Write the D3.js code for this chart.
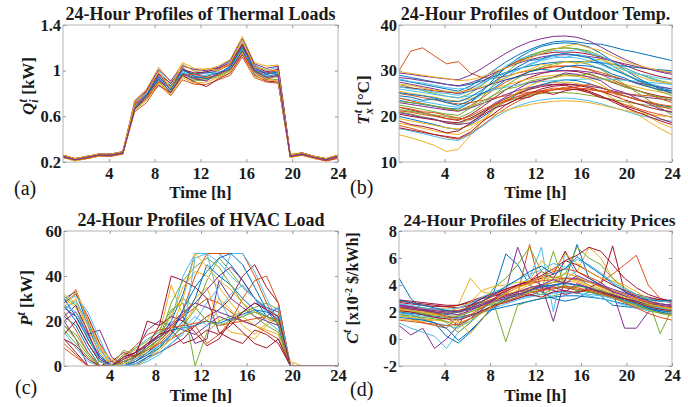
<!DOCTYPE html>
<html><head><meta charset="utf-8">
<script src="https://cdn.jsdelivr.net/npm/d3@7"></script>
<style>body{margin:0;background:#fff}svg{display:block}</style>
</head><body>
<script>
// ---------- DATA ----------
const hours = [0,1.04,2.09,3.13,4.17,5.22,6.26,7.30,8.35,9.39,10.43,11.48,12.52,13.57,14.61,15.65,16.70,17.74,18.78,19.83,20.87,21.91,22.96,24];
const xTicks = [4,8,12,16,20,24];

const thermalLoads = [
[0.25,0.22,0.24,0.26,0.26,0.28,0.68,0.78,0.92,0.84,0.98,0.94,0.95,0.98,1.03,1.18,1.00,0.95,0.97,0.25,0.27,0.24,0.22,0.25],
[0.24,0.21,0.23,0.25,0.25,0.27,0.64,0.72,0.88,0.78,0.92,0.88,0.88,0.92,0.96,1.12,0.94,0.90,0.89,0.24,0.26,0.23,0.21,0.23],
[0.26,0.23,0.25,0.27,0.27,0.29,0.74,0.84,1.03,0.90,1.07,1.02,1.01,1.04,1.10,1.30,1.07,1.04,1.05,0.27,0.28,0.25,0.23,0.26],
[0.25,0.22,0.24,0.26,0.26,0.28,0.70,0.80,0.96,0.86,1.02,0.96,0.98,1.00,1.06,1.22,1.02,0.98,1.00,0.26,0.27,0.24,0.22,0.25],
[0.24,0.22,0.23,0.26,0.26,0.28,0.66,0.75,0.90,0.80,0.95,0.91,0.92,0.95,1.00,1.15,0.97,0.93,0.92,0.25,0.27,0.24,0.22,0.24],
[0.25,0.23,0.24,0.27,0.27,0.28,0.72,0.82,1.00,0.88,1.05,1.00,0.97,1.02,1.08,1.26,1.05,1.00,1.03,0.26,0.28,0.25,0.22,0.25],
[0.24,0.22,0.24,0.26,0.26,0.27,0.67,0.76,0.87,0.81,0.96,0.90,0.86,0.93,0.98,1.14,0.96,0.91,0.90,0.25,0.26,0.24,0.21,0.24],
[0.25,0.22,0.25,0.26,0.27,0.29,0.69,0.79,0.94,0.87,1.00,0.97,0.99,0.97,1.04,1.20,1.03,0.97,0.99,0.25,0.27,0.24,0.22,0.25],
[0.26,0.23,0.24,0.27,0.26,0.28,0.71,0.81,0.98,0.83,1.03,0.93,0.94,1.01,1.05,1.24,1.00,0.96,1.02,0.26,0.28,0.25,0.23,0.26],
[0.24,0.21,0.23,0.25,0.26,0.27,0.65,0.74,0.89,0.79,0.94,0.89,0.90,0.94,0.99,1.16,0.95,0.92,0.91,0.24,0.26,0.23,0.22,0.24],
[0.25,0.22,0.24,0.26,0.26,0.28,0.73,0.83,1.01,0.91,1.04,1.01,1.00,1.03,1.09,1.28,1.06,1.02,1.04,0.26,0.27,0.24,0.22,0.25],
[0.25,0.22,0.24,0.26,0.26,0.28,0.68,0.77,0.91,0.82,0.97,0.92,0.93,0.96,1.01,1.19,0.99,0.94,0.95,0.25,0.27,0.24,0.22,0.25],
[0.24,0.22,0.24,0.26,0.26,0.28,0.69,0.80,0.93,0.85,0.99,0.95,0.96,0.99,1.02,1.17,0.98,0.96,0.94,0.25,0.27,0.24,0.22,0.24],
[0.26,0.23,0.25,0.27,0.27,0.29,0.71,0.82,0.97,0.89,1.01,0.98,0.99,1.02,1.07,1.23,1.04,0.99,1.01,0.26,0.28,0.25,0.23,0.26],
[0.25,0.22,0.24,0.26,0.26,0.28,0.67,0.79,0.95,0.83,1.01,0.95,0.93,0.97,1.04,1.21,1.01,0.97,0.98,0.25,0.27,0.24,0.22,0.25],
[0.24,0.22,0.23,0.26,0.25,0.27,0.70,0.77,0.90,0.86,0.96,0.97,0.94,0.96,1.02,1.14,0.99,0.92,0.96,0.25,0.26,0.24,0.21,0.24],
[0.26,0.23,0.25,0.27,0.27,0.29,0.72,0.81,0.99,0.85,1.06,0.99,1.02,1.00,1.07,1.27,1.03,1.01,1.00,0.26,0.28,0.25,0.23,0.26],
[0.25,0.22,0.24,0.26,0.26,0.28,0.66,0.78,0.93,0.81,0.97,0.93,0.91,0.98,1.01,1.17,1.00,0.94,0.96,0.25,0.27,0.24,0.22,0.25]
];

const outdoorTemp = [
[28,27.5,27,26.5,26,25.5,26.6,28.3,30.1,31.9,33.4,34.6,35.6,36.3,36.5,36.3,35.9,35.8,35.2,34.5,34,33.4,32.8,32.2],
[30,34.3,35,33.2,31.5,32,29.5,28.5,28.3,28.8,29.5,30,30.5,31,31,30.8,30.3,29.6,28.8,28,27.3,26.5,25.8,25.2],
[16,15.3,14.5,13.6,12.3,12.8,15.8,18.7,21.5,23.6,25.2,26.2,27,27.4,27.5,27.2,26.6,25.5,24,22.3,20.6,18.9,17.3,16],
[29.5,29.2,28.8,28.5,28.2,28,29,30.5,32.2,33.8,35.2,36.3,37,37.5,37.6,37.3,36.5,35.2,33.8,32.5,31.4,30.4,29.7,29.2],
[27,26.3,25.6,25,24.4,24,25,26.8,28.8,30.6,32.2,33.4,34.2,34.8,35,34.8,34.3,33.2,31.9,30.6,29.5,28.6,27.8,27.2],
[24,23.6,23.2,22.8,22.3,22,23,24.8,26.7,28.6,30.2,31.3,32.2,32.8,33,32.8,32.2,31.3,30.2,29.2,28.2,27.3,26.6,26],
[22,21.4,20.8,20.2,19.5,19.1,20.3,22,24,25.8,27.3,28.5,29.4,29.9,30,29.8,29.2,28.4,27.4,26.5,25.7,25,24.4,24],
[20,19.4,18.8,18.2,17.5,17.1,18.2,19.8,21.6,23.3,24.9,26,26.9,27.6,28,27.8,27.2,26.3,25.4,24.5,23.7,23,22.4,22],
[18,17.4,16.7,16,15.4,15,16.2,18,20,21.8,23.3,24.4,25.2,25.8,26,25.8,25.2,24.4,23.5,22.6,21.8,21,20.4,19.8],
[25.5,25,24.6,24.2,23.6,23.3,23.8,24.8,25.8,26.8,27.6,28.2,28.7,29,29.1,29,28.7,28.2,27.6,27,26.4,25.8,25.3,25],
[23,22.6,22.2,21.8,21.4,21.1,21.8,22.8,23.8,24.8,25.7,26.3,26.8,27,27.1,26.9,26.6,26.2,25.6,25,24.5,24.1,23.8,23.5],
[21,20.5,19.9,19.3,18.7,18.3,19.4,20.8,22.1,23.2,24,24.6,25,25.2,25.2,25,24.6,24.2,23.7,23.2,22.8,22.4,22.1,21.9],
[17.3,16.8,16.2,15.6,15,14.7,16,17.8,19.6,21.1,22.3,23.1,23.6,23.9,24,23.8,23.4,22.8,22,21.2,20.4,19.8,19.3,18.9],
[26.5,26.2,25.9,25.6,25.3,25.1,26,27.5,29.2,30.7,32,33,33.6,34,34.1,34,33.6,33,32.2,31.2,30.2,29.4,28.7,28.2],
[29,28.5,28,27.5,27,26.6,27,27.8,28.7,29.6,30.4,31,31.5,31.8,32,32,31.9,31.7,31.4,31,30.7,30.4,30.2,30],
[24,23.4,22.8,22.2,21.6,21.2,22.3,24,25.9,27.5,28.8,29.8,30.4,30.8,31,30.8,30.2,29.2,28,26.8,25.8,24.8,23.9,23],
[19.5,19,18.5,18,17.5,17.2,18,19.2,20.3,21.3,22,22.6,23,23.3,23.4,23.3,23,22.5,21.9,21.3,20.8,20.4,20.1,19.9],
[27.5,27,26.5,26,25.4,25,25.5,26.3,27.2,28,28.7,29.2,29.6,29.9,30,30,29.7,29.2,28.6,28,27.4,26.9,26.4,26],
[22.5,22,21.5,21,20.5,20.2,21.8,24.2,27,29.5,31.6,33.1,34.2,34.8,35,34.8,34,32.6,31,29.4,28,26.7,25.5,24.5],
[26,25.6,25.2,24.8,24.4,24.1,24.5,25.1,25.8,26.4,26.9,27.3,27.6,27.8,28,28.1,28.2,28.2,28.1,27.9,27.7,27.5,27.2,27],
[20.5,20,19.6,19.2,18.8,18.6,19.6,21,22.5,23.9,25,25.9,26.5,26.9,27,26.8,26.3,25.5,24.6,23.6,22.8,22,21.4,21],
[23.5,23,22.6,22.2,21.8,21.6,23,25.4,28.2,30.7,32.7,34.2,35.3,35.9,36.1,35.9,35.2,33.8,32,30.2,28.6,27.2,26,25],
[25,24.6,24.1,23.6,23.1,22.7,23,23.5,24,24.5,24.9,25.3,25.6,25.8,26,25.9,25.8,25.6,25.3,25,24.7,24.5,24.2,24],
[18.5,18,17.4,16.8,16.3,16,17.2,19.2,21.4,23.5,25.3,26.7,27.8,28.5,28.9,28.8,28.2,27,25.3,23.5,21.7,20,18.5,17.5],
[28.5,28.2,27.8,27.4,27,26.7,27.3,28.3,29.5,30.6,31.6,32.4,33,33.4,33.5,33.4,33.1,32.7,32.1,31.5,30.9,30.4,29.9,29.5],
[21.5,21.1,20.7,20.3,19.9,19.6,20.8,22.6,24.7,26.7,28.4,29.8,30.8,31.5,31.9,31.9,31.4,30.3,28.7,27,25.3,23.6,21.9,20.3],
[26.5,26,25.8,25.3,25,24.6,25.5,27,29,31,32.5,33.2,33.8,34.4,34.2,34.6,33.8,33.2,32,30.6,29.5,28.4,27.6,27],
[19,18.2,17.8,17.2,16.4,16.8,18.5,20.2,21.8,22.6,23.8,24.2,25.5,24.8,25.6,26,25.2,24.1,23.6,22.3,21.5,20.6,19.5,18.6],
[24.5,24.2,23.5,23.8,23,22.4,23.5,25,26.2,28,28.6,29.8,30.3,30,30.9,31.2,31,30.5,29.2,28.4,27.2,26.5,25.8,25.5],
[22,21.6,21,20.8,20.2,19.6,19.2,20.5,22.3,23.5,24.3,24.8,25.6,26.2,26,26.5,27,26.4,25.3,24.5,23.6,23,22.2,21.5],
[27,26.8,26.2,25.7,25.5,25.2,25.8,26.4,27.5,28.4,29.6,30.2,31.4,31,32,31.6,32.2,32.5,31.5,30.2,29,28,27.5,27.2],
[20.8,20.3,19.7,19.4,18.5,18.2,18.6,20.4,22.8,24.2,26,27.4,27.9,28.6,29.5,29.2,28.6,27.8,26,25.2,24,22.8,21.6,20.8],
[23.2,23,22.7,22.3,21.8,21.3,22,23.2,24.7,25.9,26.5,27.7,28.2,28.5,29.2,28.8,29.4,28.4,27.6,26.4,25.8,24.8,24.2,23.6],
[28.2,27.6,27.3,26.8,26.3,26,26.2,27.4,28.4,29.4,30.1,31.5,32.4,33.2,32.8,33.6,32.9,32,31,30.1,29.3,28.9,28.3,28],
[17.5,17,16.5,16,15.6,15.2,16.5,18.8,20.6,22.5,23.8,25,26,26.6,26.8,26.2,25.5,24.5,23.2,22,21,20,19,18.2],
[25.2,24.8,24.5,24,23.4,23.2,24.2,25.8,27.6,29.2,30.8,32.2,32.6,33.4,33.8,33.3,32.8,31.6,30.4,29.2,28,27,26.2,25.6],
[21.2,20.9,20.4,20,19.5,19.3,20,21.4,22.6,23.2,24.4,25.2,25.1,25.8,26.4,26.2,26,25.4,25.1,24.4,23.8,23.2,22.6,22.2],
[29.8,29.4,29,28.6,28.3,27.8,28,28.6,29.8,30.6,31.8,32.7,33.8,34.6,35.4,35.8,35,34.4,33.2,32,31.2,30.6,30,29.6]
];

const hvacLoad = [
[30,33,18,5,0,2,4,8,12,20,32,50,50,50,45,38,30,22,20,0,0,0,0,0],
[28,34,20,8,0,0,3,6,10,15,25,40,50,50,50,50,40,28,18,0,0,0,0,0],
[25,30,15,0,0,5,7,9,14,36,22,30,35,20,15,14,12,18,22,0,0,0,0,0],
[20,12,0,0,0,4,6,16,20,18,16,14,18,22,20,24,28,26,24,0,0,0,0,0],
[31,27,12,3,0,0,2,5,8,12,18,25,38,48,42,35,30,26,22,0,0,0,0,0],
[15,8,2,0,0,3,8,12,15,20,40,50,50,30,20,22,25,20,16,0,0,0,0,0],
[28,32,22,10,2,0,0,4,6,9,12,18,22,25,30,40,45,35,28,0,0,0,0,0],
[22,18,8,0,0,1,5,10,13,16,17,18,20,19,21,23,25,24,21,0,0,0,0,0],
[10,5,0,0,0,0,3,8,12,18,22,26,30,28,24,20,18,15,12,0,0,0,0,0],
[30,26,16,6,0,2,6,10,14,22,35,42,40,35,28,22,18,16,14,0,0,0,0,0],
[26,22,14,16,4,0,2,6,11,17,22,10,12,38,30,26,22,20,18,0,0,0,0,0],
[18,14,6,0,0,5,8,11,16,25,28,0,15,20,22,24,26,28,25,0,0,0,0,0],
[29,31,24,12,0,0,0,2,5,10,15,20,28,35,50,50,42,30,20,0,0,0,0,0],
[12,6,0,0,2,6,4,9,18,40,38,35,30,15,12,10,16,14,10,0,0,0,0,0],
[27,20,10,2,0,0,1,4,8,14,20,30,45,40,36,30,25,22,19,0,0,0,0,0],
[24,16,6,0,0,3,5,7,10,12,15,18,10,14,20,30,38,40,28,0,0,0,0,0],
[32,28,18,8,3,0,0,3,7,12,19,26,20,30,25,18,14,19,23,2,0,0,0,0],
[20,24,14,4,0,0,4,9,14,19,24,28,26,24,22,20,18,22,26,0,0,0,0,0],
[16,10,4,0,0,7,5,8,12,28,38,44,48,44,36,28,22,18,15,0,0,0,0,0],
[25,29,19,7,1,0,1,3,6,10,14,48,50,46,40,35,30,26,22,0,0,0,0,0],
[14,20,10,2,0,2,4,20,18,22,20,15,9,12,20,15,10,8,12,0,0,0,0,0],
[30,22,12,4,0,0,2,5,9,14,25,35,42,48,50,45,35,25,18,0,0,0,0,0],
[8,4,0,0,0,4,9,14,16,17,18,19,20,18,19,20,21,22,20,0,0,0,0,0],
[26,33,21,9,0,1,3,7,11,16,30,50,44,38,34,28,24,21,19,0,0,0,0,0],
[22,27,15,3,0,3,6,9,13,18,23,28,34,40,44,38,30,25,20,0,0,0,0,0],
[18,12,5,0,0,2,4,7,12,24,30,26,20,18,20,22,24,22,20,0,0,0,0,0],
[27,24,13,2,0,0,3,6,9,13,17,22,18,25,32,36,30,24,26,0,0,0,0,0],
[12,9,3,0,0,4,6,10,14,16,10,12,16,14,18,24,28,25,22,0,0,0,0,0]
];

const elecPrice = [
[4.5,3,2.2,2,1.8,2,2.5,3,3.5,6.3,5.5,4,3.5,3,2.8,3,3.5,3.2,2.5,2.4,2.3,2.2,2.1,2],
[2,1.5,1.2,1,0.8,1.8,2.5,2.7,3,3.2,3.3,7,3.5,4,3.8,3.6,3.5,3.3,3,2.8,2.5,2.3,2,1.9],
[2.5,2.4,2.3,2.2,2.3,2.5,4.5,3.5,3.3,3.2,3.5,3.8,4,4.2,4.5,5,6.8,6,4.5,3.5,3,2.8,2.6,2.5],
[1,0.3,0.8,-0.7,0,1,2.5,3,3.2,3.3,3.5,3.7,3.8,4,4.2,4,3.8,3.6,3.3,3,2.8,2.6,2.4,2.2],
[2.2,2.1,2,1.9,1.9,2,2.2,2.4,2.6,-0.2,2.5,2.8,3,3.2,3.4,3.5,3.6,3.4,3.2,3,2.8,2.6,2.4,2.3],
[1.8,1.6,1.4,1.2,1,0.8,1.5,2.2,2.8,3.5,4,4.5,6.8,2,6.5,4.5,4,3.5,3.2,2.8,2.5,2.3,2.1,2],
[2.8,2.7,2.6,2.5,2.4,2.3,2.5,2.8,3.2,3.5,4,4.2,4.5,4.8,6.5,5,4.5,4,6.9,3.5,3.2,3,2.9,2.8],
[2,1.8,1.5,1.2,0.2,-0.3,0.5,1.5,2.5,3,3.3,3.6,3.9,4.2,4.3,7,4.5,4,3.5,3.2,2.8,2.5,2.3,2.2],
[2.3,2.3,2.2,2.2,2.1,2.1,2.3,2.6,3,3.3,3.5,3.6,3.7,3.8,3.8,3.7,3.5,3.3,3.1,2.9,2.7,2.5,2.4,2.3],
[1.5,1.4,1.3,1.4,1.5,1.7,2,2.4,2.8,3.2,3.6,4,4.4,4.6,4.5,4.3,4,3.7,3.3,3,2.7,2.4,2.2,2],
[2.6,2.4,2.2,2,1.6,1,1.5,2.2,3,3.6,6.8,4.5,4,3.6,3.3,3.5,3.8,4.2,3.5,0.8,0.8,2,2.3,2.5],
[2.1,2,1.9,1.8,1.7,1.7,2,2.3,2.7,3,3.3,3.5,3.6,6.5,3.8,3.9,3.8,3.6,3.3,3,2.7,2.5,2.3,2.1],
[1.2,0.8,0.5,0.2,-0.7,0.5,1.2,2,2.5,2.8,3,3.2,3.3,3.4,3.5,3.4,3.3,3.2,3,2.8,2.6,2.4,2.3,2.2],
[2.9,2.8,2.7,2.6,2.5,2.5,2.7,3,3.3,3.7,4,4.3,5,4.5,5.8,5.5,5,4.5,4,3.6,3.3,3.1,2.9,2.8],
[2,1.9,1.8,1.7,1.6,1.6,1.8,2,2.2,2.4,2.6,2.8,3,3.1,3.2,3.2,3.1,3,2.8,2.6,2.4,2.3,2.1,2],
[2.4,2.3,2.1,1.9,1.7,1.5,1.8,2.3,2.9,3.4,3.8,4.2,4.6,5,5.2,5,4.6,4.2,4.8,5.5,6.2,4,3,2.6],
[1.7,1.6,1.5,1.4,1.3,1.2,1.5,1.9,2.4,2.9,3.3,3.7,4,4.2,4.3,4.2,3.9,3.5,3.1,2.7,2.4,2.1,1.9,1.7],
[2.5,2.4,2.3,2.2,2.1,2.1,2.3,2.6,2.9,3.2,3.5,3.8,4,1.3,4.5,4.5,4.2,3.9,3.5,3.2,2.9,2.7,2.6,2.5],
[2.2,2.1,1.9,1.7,1.2,0.5,1.2,2.6,3.8,4.5,5.5,6.8,5,4.5,4.8,6.8,6,5.5,4.5,3.8,3.3,2.9,0.4,2.2],
[1.9,1.8,1.7,1.6,1.5,1.5,1.7,2,2.3,2.6,2.9,3.1,3.3,3.4,3.5,3.4,3.2,3,2.8,2.5,2.3,2.1,2,1.9],
[2.7,2.6,2.5,2.4,2.4,2.5,2.8,3.1,3.4,3.7,4,4.3,4.7,5.2,5.8,6.2,6.8,6.5,5.5,4.5,3.8,3.3,3,2.8],
[1.6,1.5,1.4,1.2,0.8,-0.1,0.6,1.5,2.3,2.9,3.3,3.6,3.9,4,4.1,4,3.8,3.5,3.2,2.9,2.6,2.3,2,1.8],
[2.3,2.2,2.1,2,2,2.1,2.4,2.8,3.2,3.6,3.9,4.1,4.3,4.4,4.5,4.4,4.2,3.9,3.6,3.3,3,2.7,2.5,2.3],
[2,2.2,2.3,2.1,2,2.3,2.7,3.6,3.9,4,4.2,4.3,5.8,5,6.3,5.6,5,4.5,4.3,4,3.5,3,2.6,2.2],
[2.4,2.2,2.1,2,1.9,1.8,2.1,2.5,2.9,3.1,3.4,3.2,3.6,3.9,3.5,4.1,3.8,3.4,3.3,3,2.8,2.6,2.5,2.4],
[1.8,1.7,1.6,1.5,1.3,0.9,1.3,2,2.6,2.8,3.1,3.5,3.3,3.7,4,3.6,3.5,3.3,3.1,2.8,2.5,2.2,1.9,1.8],
[2.6,2.5,2.3,2.2,2.2,2.3,2.6,3.1,3.5,3.8,4.4,4.8,5.1,5.6,5.3,5.9,5.5,4.9,4.2,3.7,3.3,3,2.8,2.7],
[2.1,2,1.8,1.6,1.5,1.4,1.7,2.1,2.5,2.7,3,3.3,3.1,3.5,3.6,3.4,3.7,3.5,3.2,3,2.7,2.4,2.2,2.1],
[2.9,2.7,2.5,2.3,2.1,2,2.3,2.8,3.3,3.9,4.4,5,5.4,4.8,5.2,6.1,5.4,4.8,4.1,3.5,3.1,2.9,2.8,2.9],
[1.4,1.3,1.2,1.1,1,1.1,1.5,2,2.4,2.8,3.1,3.4,3.6,3.7,3.9,3.8,3.6,3.4,3.1,2.7,2.3,1.9,1.6,1.4],
[2.2,2.1,2,1.8,1.6,1.3,0.4,1.4,2.8,3.4,3.8,4.1,4.6,4.3,4.9,4.6,4.2,3.8,3.4,3.1,2.9,2.6,2.4,2.2],
[2.5,2.3,2.2,2.1,2,2,2.2,2.5,2.8,3,3.2,3.6,4,4.4,4.1,4.7,4.3,4,3.7,3.4,3.1,2.8,2.6,2.5]
];

const yTicksA = [0.2,0.6,1,1.4];
const yTicksB = [10,20,30,40];
const yTicksC = [0,20,40,60];
const yTicksD = [-2,0,2,4,6,8];
const titles = ["24-Hour Profiles of Thermal Loads","24-Hour Profiles of Outdoor Temp.","24-Hour Profiles of HVAC Load","24-Hour Profiles of Electricity Prices"];
const panelTags = ["(a)","(b)","(c)","(d)"];
const xLabel = "Time [h]";
const colors = ["#0072BD","#D95319","#EDB120","#7E2F8E","#77AC30","#4DBEEE","#A2142F"];

// ---------- DRAW ----------
const svg = d3.select("body").append("svg").attr("width",688).attr("height",407);
const SERIF = "'Liberation Serif','Times New Roman',serif";
const INK = "#1a1a1a";

const panels = [
  {data:thermalLoads, dom:[0.2,1.4], ticks:yTicksA, box:{l:63,r:338,t:25,b:162}, ylab:{x:34,y:86}, tickY:17, xlabY:36, tagY:33, titleSize:18, titleDx:0, key:"a"},
  {data:outdoorTemp,  dom:[10,40],   ticks:yTicksB, box:{l:399,r:672,t:25,b:162}, ylab:{x:369,y:100}, tickY:17, xlabY:36, tagY:32, titleSize:18, titleDx:0, key:"b"},
  {data:hvacLoad,     dom:[0,60],    ticks:yTicksC, box:{l:64,r:338,t:231,b:366}, ylab:{x:32,y:298}, tickY:15, xlabY:35, tagY:28, titleSize:18, titleDx:0, key:"c"},
  {data:elecPrice,    dom:[-2,8],    ticks:yTicksD, box:{l:399,r:672,t:231,b:366}, ylab:{x:358,y:288}, tickY:15, xlabY:35, tagY:30, titleSize:17.3, titleDx:4, key:"d"}
];

panels.forEach((p,pi)=>{
  const b = p.box;
  const x = d3.scaleLinear().domain([0,24]).range([b.l,b.r]);
  const y = d3.scaleLinear().domain(p.dom).range([b.b,b.t]);
  const g = svg.append("g");
  const cid = "clip"+pi;
  svg.append("clipPath").attr("id",cid).append("rect")
    .attr("x",b.l).attr("y",b.t).attr("width",b.r-b.l).attr("height",b.b-b.t);

  const line = d3.line().x((d,i)=>x(hours[i])).y(d=>y(d));
  g.append("g").attr("clip-path",`url(#${cid})`)
    .selectAll("path").data(p.data).join("path")
    .attr("d",line).attr("fill","none")
    .attr("stroke",(d,i)=>colors[i%colors.length])
    .attr("stroke-width",1).attr("stroke-linejoin","round");

  g.append("rect").attr("x",b.l).attr("y",b.t).attr("width",b.r-b.l).attr("height",b.b-b.t)
    .attr("fill","none").attr("stroke","#b3b3b3").attr("stroke-width",1);

  const xa = d3.axisBottom(x).tickValues(xTicks).tickSize(-3).tickPadding(0).tickFormat(d3.format("d"));
  const xg = g.append("g").attr("transform",`translate(0,${b.b})`).call(xa);
  const xt = d3.axisTop(x).tickValues(xTicks).tickSize(-3).tickFormat("");
  const xtg = g.append("g").attr("transform",`translate(0,${b.t})`).call(xt);
  const ya = d3.axisLeft(y).tickValues(p.ticks).tickSize(-3).tickPadding(2).tickFormat(d=>String(d));
  const yg = g.append("g").attr("transform",`translate(${b.l},0)`).call(ya);
  const yr = d3.axisRight(y).tickValues(p.ticks).tickSize(-3).tickFormat("");
  const yrg = g.append("g").attr("transform",`translate(${b.r},0)`).call(yr);
  [xg,xtg,yg,yrg].forEach(a=>{
    a.select(".domain").remove();
    a.selectAll(".tick line").attr("stroke","#999");
    a.selectAll("text").attr("font-family",SERIF).attr("font-weight","bold").attr("font-size",16.5).attr("fill",INK);
  });
  xg.selectAll(".tick text").attr("y",p.tickY).attr("dy",null);

  g.append("text").attr("x",(b.l+b.r)/2+p.titleDx).attr("y",b.t-5).attr("text-anchor","middle")
    .attr("font-family",SERIF).attr("font-weight","bold").attr("font-size",p.titleSize).attr("fill",INK)
    .text(titles[pi]);
  g.append("text").attr("x",(b.l+b.r)/2).attr("y",b.b+p.xlabY).attr("text-anchor","middle")
    .attr("font-family",SERIF).attr("font-weight","bold").attr("font-size",17).attr("fill",INK)
    .text(xLabel);
  g.append("text").attr("x",b.l-49).attr("y",b.b+p.tagY)
    .attr("font-family",SERIF).attr("font-size",20).attr("fill","#111")
    .text(panelTags[pi]);

  const yl = g.append("text").attr("transform",`translate(${p.ylab.x},${p.ylab.y}) rotate(-90)`)
    .attr("text-anchor","middle").attr("font-family",SERIF).attr("font-weight","bold")
    .attr("font-size",17).attr("fill",INK);
  if(p.key==="a"){
    yl.append("tspan").attr("font-style","italic").text("Q");
    yl.append("tspan").attr("font-style","italic").attr("font-size",12).attr("dy",4).text("i");
    yl.append("tspan").attr("font-style","italic").attr("font-size",12).attr("dx",-3).attr("dy",-11).text("t");
    yl.append("tspan").attr("dy",7).text(" [kW]");
  } else if(p.key==="b"){
    yl.append("tspan").attr("font-style","italic").text("T");
    yl.append("tspan").attr("font-style","italic").attr("font-size",12).attr("dy",4).text("x");
    yl.append("tspan").attr("font-style","italic").attr("font-size",12).attr("dx",-5).attr("dy",-11).text("t");
    yl.append("tspan").attr("dy",7).text(" [°C]");
  } else if(p.key==="c"){
    yl.append("tspan").attr("font-style","italic").text("P");
    yl.append("tspan").attr("font-style","italic").attr("font-size",12).attr("dy",-7).text("t");
    yl.append("tspan").attr("dy",7).text(" [kW]");
  } else {
    yl.attr("font-size",16);
    yl.append("tspan").attr("font-style","italic").text("C");
    yl.append("tspan").attr("font-style","italic").attr("font-size",12).attr("dy",-7).text("t");
    yl.append("tspan").attr("dy",7).text(" [x10");
    yl.append("tspan").attr("font-size",10).attr("dy",-6).text("-2");
    yl.append("tspan").attr("dy",6).text(" $/kWh]");
  }
});
</script>
</body></html>
